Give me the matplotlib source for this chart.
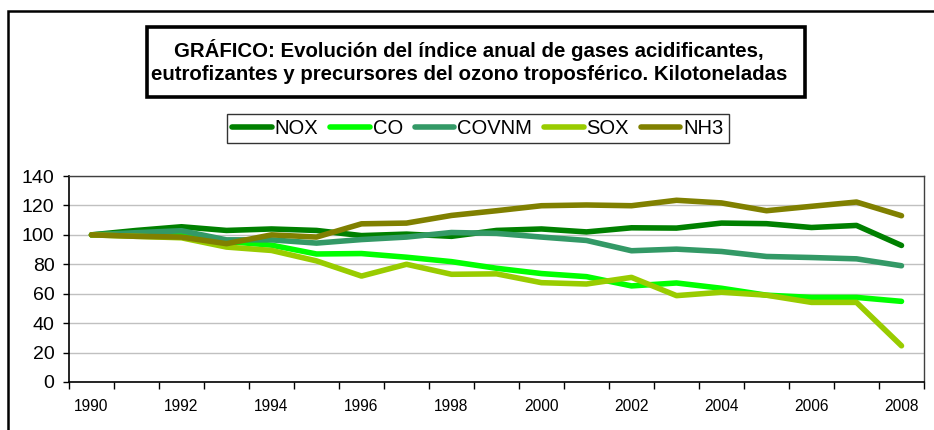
import matplotlib
matplotlib.use("Agg")
import matplotlib.pyplot as plt
from matplotlib.patches import Rectangle
import numpy as np

plt.rcParams['font.family'] = ['Liberation Sans', 'DejaVu Sans']

years = list(range(1990, 2009))
series_names = ["NOX", "CO", "COVNM", "SOX", "NH3"]
series_colors = ["#008000", "#00FF00", "#339966", "#99CC00", "#808000"]

nox   = [100, 103, 105.5, 103, 104, 103, 99.5, 100.5, 99, 103, 104, 102, 104.8, 104.6, 108, 107.6, 105, 106.4, 92.8]
co    = [100, 100.5, 101, 95.5, 93, 87, 87.3, 84.8, 81.8, 77.3, 73.7, 71.6, 65.3, 67.3, 63.7, 59, 57.5, 57.5, 54.8]
covnm = [100, 101.5, 102.8, 96.6, 96.6, 94.4, 96.8, 98.5, 101.6, 101, 98.5, 96.2, 89.2, 90.3, 88.7, 85.3, 84.6, 83.7, 79]
sox   = [100, 99, 98, 91.7, 89.4, 82.3, 72, 80, 73.2, 73.5, 67.5, 66.6, 71.1, 58.7, 61, 59, 54.1, 54.1, 24.6]
nh3   = [100, 99, 98.5, 94, 100, 98.5, 107.5, 108, 113.2, 116.4, 119.8, 120.3, 119.8, 123.5, 121.7, 116.4, 119.4, 122.3, 113]
series_values = [nox, co, covnm, sox, nh3]

yticks = [0, 20, 40, 60, 80, 100, 120, 140]
title = ("GRÁFICO: Evolución del índice anual de gases acidificantes,\n"
         "eutrofizantes y precursores del ozono troposférico. Kilotoneladas")

W, H = 934, 430
fig = plt.figure(figsize=(W / 100, H / 100), dpi=100)

def fx(px):
    return px / W

def fy(py):
    return 1 - py / H

# outer frame
fig.patches.append(Rectangle((fx(8), fy(445)), fx(960) - fx(8), fy(11) - fy(445),
                             transform=fig.transFigure, fill=False, ec="black", lw=1.8,
                             clip_on=False))
# title box
fig.patches.append(Rectangle((fx(147), fy(97)), fx(805) - fx(147), fy(27) - fy(97),
                             transform=fig.transFigure, fill=True, fc="white", ec="black", lw=2.6))
fig.text(fx(469), fy(61.5), title, ha="center", va="center", fontsize=14.7,
         fontweight="bold", linespacing=1.32)

ax = fig.add_axes([fx(69), fy(382), fx(924) - fx(69), fy(176) - fy(382)])
x = np.arange(len(years))
lines = []
for vals, name, col in zip(series_values, series_names, series_colors):
    ln, = ax.plot(x, vals, color=col, lw=4.0, label=name, solid_joinstyle="round",
                  solid_capstyle="round")
    lines.append(ln)

ax.set_xlim(-0.5, len(years) - 0.5)
ax.set_ylim(0, 140)
ax.set_yticks(yticks)
ax.set_yticklabels([str(v) for v in yticks], fontsize=14)
ax.yaxis.grid(True, color="#C0C0C0", lw=1)
ax.set_axisbelow(True)

ax.set_xticks(np.arange(-0.5, len(years), 1))
ax.set_xticklabels([])
ax.set_xticks(x[::2], minor=True)
ax.set_xticklabels([str(y) for y in years[::2]], minor=True, fontsize=11.2)
ax.tick_params(axis="x", which="major", length=5, width=1, direction="out")
ax.tick_params(axis="x", which="minor", length=0, pad=12)
ax.tick_params(axis="y", length=4.5, width=1, direction="out", pad=6)

for s in ["left", "bottom"]:
    ax.spines[s].set_color("black")
    ax.spines[s].set_linewidth(1.2)
for s in ["top", "right"]:
    ax.spines[s].set_color("#404040")
    ax.spines[s].set_linewidth(1.0)

leg = fig.legend(handles=lines, loc="center", bbox_to_anchor=(fx(478), fy(128.5)),
                 ncol=5, fontsize=14.5, frameon=True, fancybox=False,
                 handlelength=1.95, handletextpad=0.15, columnspacing=0.6,
                 borderpad=0.25, borderaxespad=0)
leg.get_frame().set_edgecolor("black")
leg.get_frame().set_linewidth(1.0)

fig.savefig("out.png", dpi=100)
